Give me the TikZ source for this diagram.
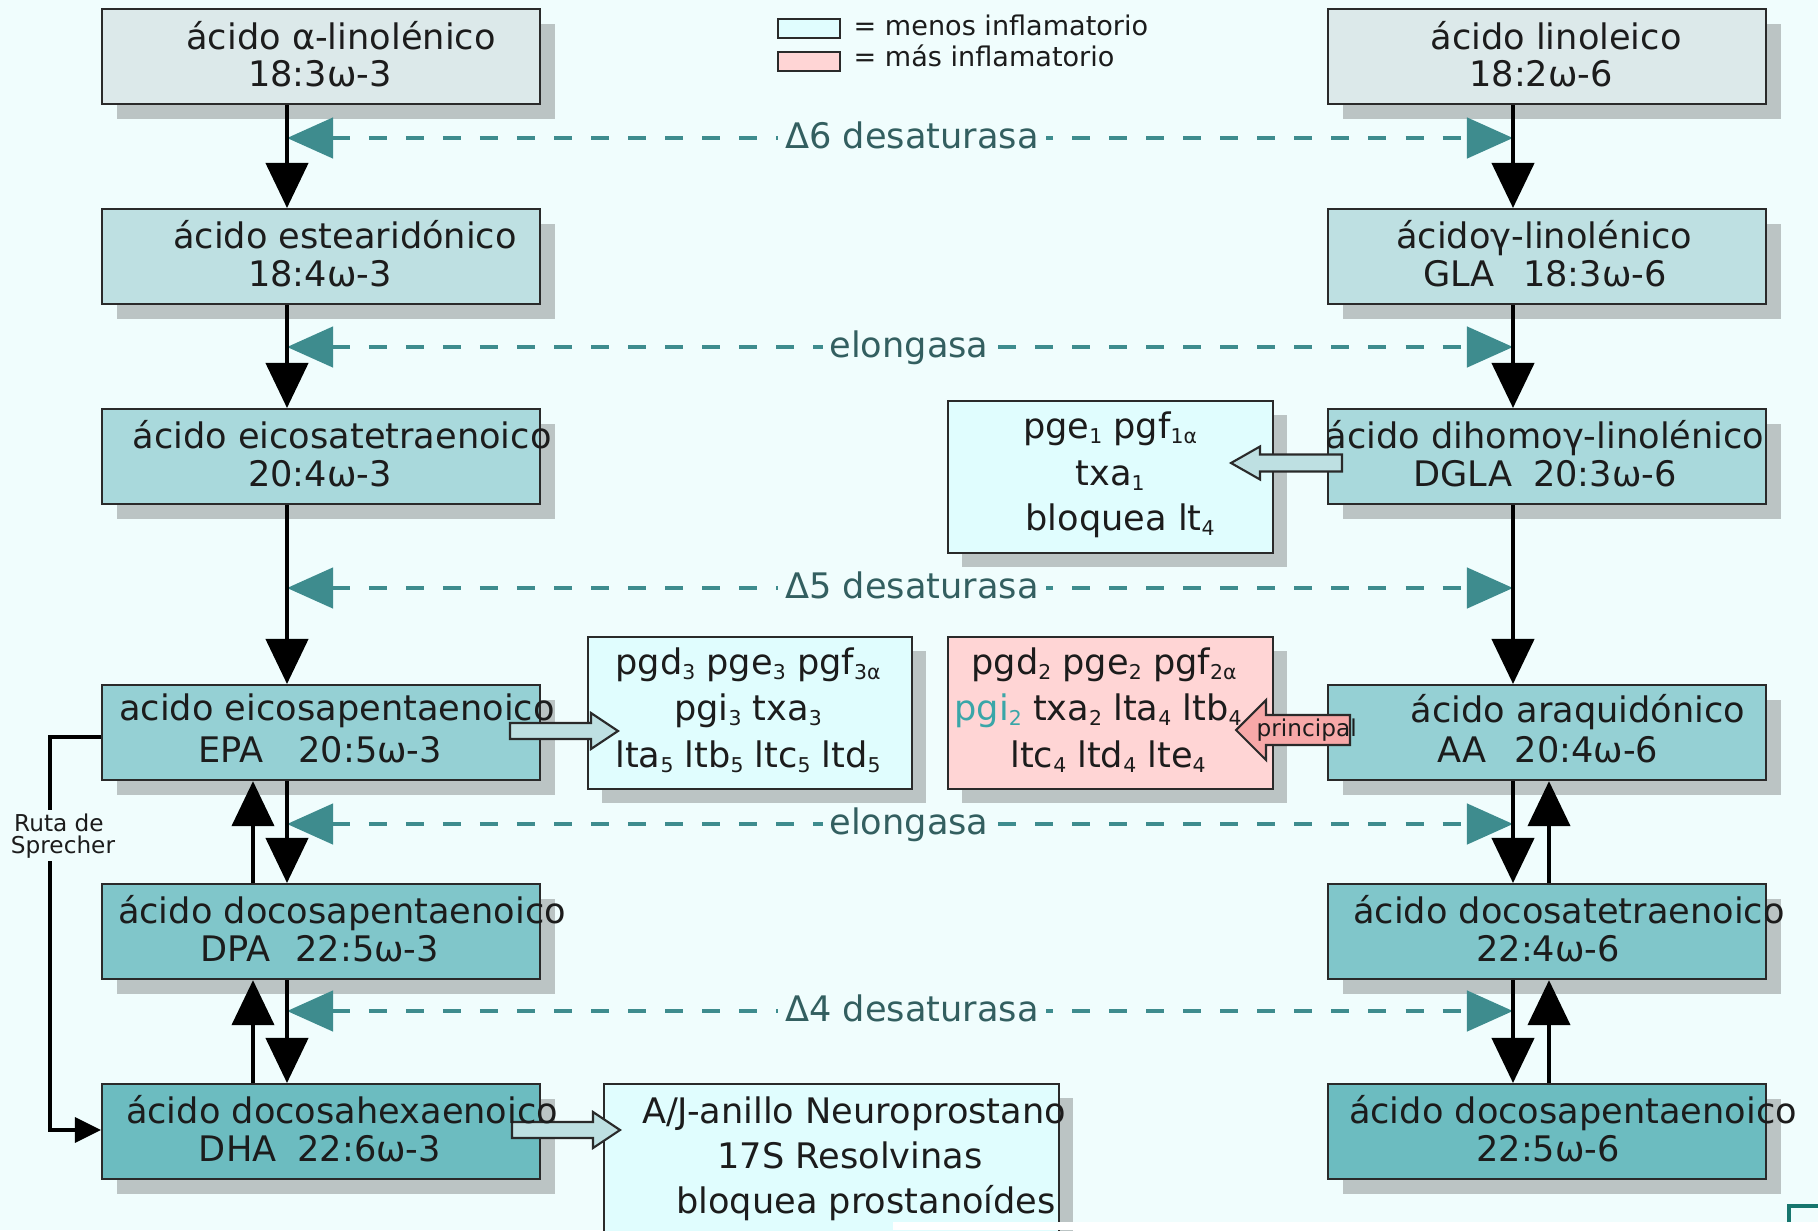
\documentclass[tikz,border=0pt]{standalone}
\usepackage{fontspec}
\setmainfont{DejaVu Sans}
\usetikzlibrary{arrows.meta,shadows,calc}
\definecolor{bgc}{HTML}{F0FDFD}
\definecolor{rA}{HTML}{DCE9EA}
\definecolor{rB}{HTML}{BEE0E2}
\definecolor{rC}{HTML}{A9D9DC}
\definecolor{rD}{HTML}{95D0D4}
\definecolor{rE}{HTML}{80C6CA}
\definecolor{rF}{HTML}{6CBCC0}
\definecolor{prodc}{HTML}{E0FDFE}
\definecolor{pinkc}{HTML}{FFD5D5}
\definecolor{pinkarr}{HTML}{F7A8A8}
\definecolor{shadowc}{HTML}{BBC4C4}
\definecolor{tealc}{HTML}{3E8C8E}
\definecolor{lblc}{HTML}{335F60}
\definecolor{linec}{HTML}{2A2A2A}
\definecolor{txtc}{HTML}{1C1C1C}
\definecolor{pgic}{HTML}{3AA6A8}
\definecolor{cornerc}{HTML}{17766E}
\newcommand{\sbx}[1]{\raisebox{-0.3ex}{\fontsize{5.8}{6}\selectfont #1}}
\begin{document}
\begin{tikzpicture}[x=0.01cm,y=-0.01cm,
  acid/.style={draw=linec, line width=0.6pt, rectangle, inner sep=0pt, minimum width=4.38cm, minimum height=0.95cm, anchor=north west, drop shadow={shadow xshift=0.15cm, shadow yshift=-0.15cm, fill=shadowc, opacity=1}},
  prod/.style={draw=linec, line width=0.6pt, rectangle, inner sep=0pt, minimum width=3.24cm, minimum height=1.52cm, anchor=north west, fill=prodc, drop shadow={shadow xshift=0.14cm, shadow yshift=-0.14cm, fill=shadowc, opacity=1}},
  txt/.style={font=\fontsize{10}{12}\selectfont, text=txtc, inner sep=0pt, anchor=base},
  enz/.style={font=\fontsize{10}{12}\selectfont, text=lblc, inner xsep=2pt, inner ysep=1pt, anchor=base, fill=bgc},
  enzline/.style={draw=tealc, line width=1.3pt, dash pattern=on 0.18cm off 0.19cm, {Triangle[length=0.46cm,width=0.40cm]}-{Triangle[length=0.46cm,width=0.40cm]}},
  flow/.style={draw=black, line width=1.2pt, -{Triangle[length=0.45cm,width=0.42cm]}},
  barrow/.style={draw=linec, line width=0.6pt, fill=rB, line join=miter},
  sprline/.style={draw=black, line width=0.9pt, -{Triangle[length=0.26cm,width=0.25cm]}},
  sprlbl/.style={font=\fontsize{6.6}{7}\selectfont, text=txtc, inner sep=1pt, anchor=base, fill=bgc},
  leg/.style={font=\fontsize{7.7}{9}\selectfont, text=txtc, inner sep=0pt, anchor=base west},
  legbox/.style={draw=linec, line width=0.6pt, minimum width=0.62cm, minimum height=0.19cm, inner sep=0pt, anchor=north west}
]
\useasboundingbox (0,0) rectangle (1818,1230);
\fill[bgc] (0,0) rectangle (1818,1230);

% acid boxes
\node[acid, fill=rA] (ala) at (101,8) {};
\node[acid, fill=rA] (la) at (1327,8) {};
\node[acid, fill=rB] (sda) at (101,208) {};
\node[acid, fill=rB] (gla) at (1327,208) {};
\node[acid, fill=rC] (eta) at (101,408) {};
\node[acid, fill=rC] (dgla) at (1327,408) {};
\node[acid, fill=rD] (epa) at (101,684) {};
\node[acid, fill=rD] (aa) at (1327,684) {};
\node[acid, fill=rE] (dpa) at (101,883) {};
\node[acid, fill=rE] (dta) at (1327,883) {};
\node[acid, fill=rF] (dha) at (101,1083) {};
\node[acid, fill=rF] (dpsix) at (1327,1083) {};

% product boxes
\node[prod, minimum width=3.25cm] (pDG) at (947,400) {};
\node[prod] (pEPA) at (587,636) {};
\node[prod, minimum width=3.25cm, fill=pinkc] (pAA) at (947,636) {};
\node[prod, minimum width=4.55cm, minimum height=1.70cm] (pDHA) at (603,1083) {};

% legend
\node[legbox, fill=prodc] (legA) at (777,18) {};
\node[legbox, fill=pinkc] (legB) at (777,51) {};
\node[leg] (legAt) at (853,35) {= menos inflamatorio};
\node[leg] (legBt) at (853,67) {= más inflamatorio};

% enzyme dashed connectors
\coordinate (e1L) at (287,138); \coordinate (e1R) at (1513,138);
\coordinate (e2L) at (287,347); \coordinate (e2R) at (1513,347);
\coordinate (e3L) at (287,588); \coordinate (e3R) at (1513,588);
\coordinate (e4L) at (287,824); \coordinate (e4R) at (1513,824);
\coordinate (e5L) at (287,1011); \coordinate (e5R) at (1513,1011);
\draw[enzline] (e1L) -- (e1R);
\draw[enzline] (e2L) -- (e2R);
\draw[enzline] (e3L) -- (e3R);
\draw[enzline] (e4L) -- (e4R);
\draw[enzline] (e5L) -- (e5R);
\node[enz] (en1) at (912,148) {Δ6 desaturasa};
\node[enz] (en2) at (909,357) {elongasa};
\node[enz] (en3) at (912,598) {Δ5 desaturasa};
\node[enz] (en4) at (909,834) {elongasa};
\node[enz] (en5) at (912,1021) {Δ4 desaturasa};

% black flows
\coordinate (cLd) at (287,0); \coordinate (cLu) at (253,0);
\coordinate (cRd) at (1513,0); \coordinate (cRu) at (1549,0);
\draw[flow] (ala.south -| cLd) -- (sda.north -| cLd);
\draw[flow] (sda.south -| cLd) -- (eta.north -| cLd);
\draw[flow] (eta.south -| cLd) -- (epa.north -| cLd);
\draw[flow] (epa.south -| cLd) -- (dpa.north -| cLd);
\draw[flow] (dpa.north -| cLu) -- (epa.south -| cLu);
\draw[flow] (dpa.south -| cLd) -- (dha.north -| cLd);
\draw[flow] (dha.north -| cLu) -- (dpa.south -| cLu);
\draw[flow] (la.south -| cRd) -- (gla.north -| cRd);
\draw[flow] (gla.south -| cRd) -- (dgla.north -| cRd);
\draw[flow] (dgla.south -| cRd) -- (aa.north -| cRd);
\draw[flow] (aa.south -| cRd) -- (dta.north -| cRd);
\draw[flow] (dta.north -| cRu) -- (aa.south -| cRu);
\draw[flow] (dta.south -| cRd) -- (dpsix.north -| cRd);
\draw[flow] (dpsix.north -| cRu) -- (dta.south -| cRu);

% Sprecher route
\coordinate (sprA) at (101,737); \coordinate (sprB) at (101,1130); \coordinate (sprX) at (50,0);
\draw[sprline] (sprA) -| (sprX |- sprB) -- (sprB);
\node[sprlbl] (spr1) at (59,831) {Ruta de};
\node[sprlbl] (spr2) at (63,853) {Sprecher};

% block arrows
\coordinate (bDG) at (1231,463);
\draw[barrow] (bDG) -- ++(29,-16.5) -- ++(0,8) -- ++(82,0) -- ++(0,17) -- ++(-82,0) -- ++(0,8) -- cycle;
\coordinate (bEPA) at (618,731);
\draw[barrow] (bEPA) -- ++(-27,-18) -- ++(0,10) -- ++(-81,0) -- ++(0,16) -- ++(81,0) -- ++(0,10) -- cycle;
\coordinate (bDHA) at (620,1130);
\draw[barrow] (bDHA) -- ++(-27,-18) -- ++(0,10) -- ++(-81,0) -- ++(0,16) -- ++(81,0) -- ++(0,10) -- cycle;
\coordinate (bAA) at (1236,730);
\draw[barrow, fill=pinkarr] (bAA) -- ++(30,-30) -- ++(0,15) -- ++(84,0) -- ++(0,30) -- ++(-84,0) -- ++(0,15) -- cycle;
\node[font=\fontsize{6.6}{8}\selectfont, text=txtc, inner sep=0pt, anchor=base west] (prin) at (1256,736) {principal};

% acid texts
\node[txt] (alaT1) at (341,49) {ácido α-linolénico};
\node[txt] (alaT2) at (320,86) {18:3ω-3};
\node[txt] (laT1) at (1556,49) {ácido linoleico};
\node[txt] (laT2) at (1541,86) {18:2ω-6};
\node[txt] (sdaT1) at (345,248) {ácido estearidónico};
\node[txt] (sdaT2) at (320,286) {18:4ω-3};
\node[txt] (glaT1) at (1544,248) {ácidoγ-linolénico};
\node[txt] (glaT2) at (1545,286) {GLA\hspace{0.8em}18:3ω-6};
\node[txt] (etaT1) at (342,448) {ácido eicosatetraenoico};
\node[txt] (etaT2) at (320,486) {20:4ω-3};
\node[txt] (dglaT1) at (1545,448) {ácido dihomoγ-linolénico};
\node[txt] (dglaT2) at (1545,486) {DGLA\hspace{0.6em}20:3ω-6};
\node[txt] (epaT1) at (337,720) {acido eicosapentaenoico};
\node[txt] (epaT2) at (320,762) {EPA\hspace{1em}20:5ω-3};
\node[txt] (aaT1) at (1578,722) {ácido araquidónico};
\node[txt] (aaT2) at (1548,762) {AA\hspace{0.8em}20:4ω-6};
\node[txt] (dpaT1) at (342,923) {ácido docosapentaenoico};
\node[txt] (dpaT2) at (320,961) {DPA\hspace{0.7em}22:5ω-3};
\node[txt] (dtaT1) at (1569,923) {ácido docosatetraenoico};
\node[txt] (dtaT2) at (1548,961) {22:4ω-6};
\node[txt] (dhaT1) at (342,1123) {ácido docosahexaenoico};
\node[txt] (dhaT2) at (320,1161) {DHA\hspace{0.6em}22:6ω-3};
\node[txt] (dpsT1) at (1573,1123) {ácido docosapentaenoico};
\node[txt] (dpsT2) at (1548,1161) {22:5ω-6};

% product texts
\node[txt] (pDG1) at (1110,438) {pge\sbx{1} pgf\sbx{1α}};
\node[txt] (pDG2) at (1110,485) {txa\sbx{1}};
\node[txt] (pDG3) at (1120,530) {bloquea lt\sbx{4}};
\node[txt] (pEPA1) at (748,674) {pgd\sbx{3} pge\sbx{3} pgf\sbx{3α}};
\node[txt] (pEPA2) at (748,720) {pgi\sbx{3} txa\sbx{3}};
\node[txt] (pEPA3) at (748,767) {lta\sbx{5} ltb\sbx{5} ltc\sbx{5} ltd\sbx{5}};
\node[txt] (pAA1) at (1104,674) {pgd\sbx{2} pge\sbx{2} pgf\sbx{2α}};
\node[txt] (pAA2) at (1098,720) {{\color{pgic}pgi\sbx{2}} txa\sbx{2} lta\sbx{4} ltb\sbx{4}};
\node[txt] (pAA3) at (1108,767) {ltc\sbx{4} ltd\sbx{4} lte\sbx{4}};
\node[txt] (pDHA1) at (854,1123) {A/J-anillo Neuroprostano};
\node[txt] (pDHA2) at (850,1168) {17S Resolvinas};
\node[txt] (pDHA3) at (866,1213) {bloquea prostanoídes};

% bottom edge remnants
\fill[white] (893,1222) rectangle (1818,1230);
\draw[cornerc, line width=0.9pt] (1789,1222) -- (1789,1206) -- (1818,1206);
\end{tikzpicture}
\end{document}
